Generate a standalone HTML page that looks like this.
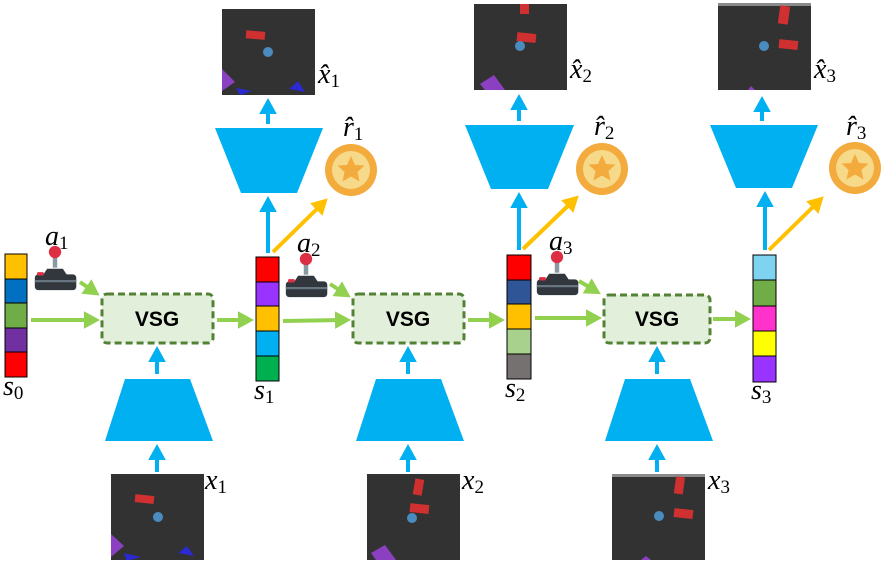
<!DOCTYPE html>
<html><head><meta charset="utf-8"><style>
html,body{margin:0;padding:0;background:#fff;}
svg{display:block;}
.m{font-family:"Liberation Serif",serif;font-style:italic;font-size:28px;fill:#000;}
.sub{font-size:19px;font-style:normal;}
.v{font-family:"Liberation Sans",sans-serif;font-weight:bold;font-size:21px;}
</style></head><body>
<svg width="887" height="566" viewBox="0 0 887 566" xmlns="http://www.w3.org/2000/svg">
<defs>
<marker id="bg" markerWidth="4" markerHeight="4.4" refX="2" refY="2.2" orient="auto" markerUnits="strokeWidth"><path d="M0,0 L4,2.2 L0,4.4 z" fill="#92d050"/></marker>
<marker id="bb" markerWidth="4" markerHeight="4.4" refX="2" refY="2.2" orient="auto" markerUnits="strokeWidth"><path d="M0,0 L4,2.2 L0,4.4 z" fill="#00b0f0"/></marker>
<marker id="bo" markerWidth="4" markerHeight="4.4" refX="2" refY="2.2" orient="auto" markerUnits="strokeWidth"><path d="M0,0 L4,2.2 L0,4.4 z" fill="#ffc000"/></marker>
<g id="joy">
<rect x="-2" y="-23" width="4" height="12" fill="#8a9aa3"/>
<circle cx="0" cy="-25" r="5.5" fill="#dd2e44"/>
<path d="M-7,-10 L7,-10 L11,-4 L-11,-4z" fill="#31373d"/>
<rect x="-18" y="-5" width="37" height="14" rx="3" fill="#31373d"/>
<rect x="-18" y="0" width="37" height="2" fill="#66757f"/>
<rect x="-16" y="-7" width="6" height="3" rx="1" fill="#dd2e44"/>
</g>
<g id="coin">
<circle r="26" fill="#f4ab3d"/>
<circle r="19" fill="#f7d98a"/>
<path d="M0,-14 L4,-5 L13.5,-4.5 L6.5,2 L8.5,11.5 L0,6.5 L-8.5,11.5 L-6.5,2 L-13.5,-4.5 L-4,-5z" fill="#f4ab3d"/>
</g>
</defs>

<g stroke="#000" stroke-width="1">
<rect x="5" y="254" width="22" height="25" fill="#ffc000"/>
<rect x="5" y="279" width="22" height="24" fill="#0070c0"/>
<rect x="5" y="303" width="22" height="25" fill="#70ad47"/>
<rect x="5" y="328" width="22" height="24" fill="#7030a0"/>
<rect x="5" y="352" width="22" height="25" fill="#ff0000"/>

<rect x="256" y="257" width="23" height="25" fill="#ff0000"/>
<rect x="256" y="282" width="23" height="24" fill="#9933ff"/>
<rect x="256" y="306" width="23" height="25" fill="#ffc000"/>
<rect x="256" y="331" width="23" height="25" fill="#00b0f0"/>
<rect x="256" y="356" width="23" height="25" fill="#00b050"/>

<rect x="507" y="255" width="24" height="25" fill="#ff0000"/>
<rect x="507" y="280" width="24" height="24" fill="#2f5597"/>
<rect x="507" y="304" width="24" height="25" fill="#ffc000"/>
<rect x="507" y="329" width="24" height="25" fill="#a9d18e"/>
<rect x="507" y="354" width="24" height="25" fill="#767171"/>

<rect x="753" y="255" width="23" height="25" fill="#7dd3f0"/>
<rect x="753" y="280" width="23" height="26" fill="#70ad47"/>
<rect x="753" y="306" width="23" height="25" fill="#ff33cc"/>
<rect x="753" y="331" width="23" height="25" fill="#ffff00"/>
<rect x="753" y="356" width="23" height="26" fill="#9933ff"/>
</g>

<g fill="#e2efda" stroke="#548235" stroke-width="3" stroke-dasharray="7,4">
<rect x="102" y="294" width="111" height="49" rx="5"/>
<rect x="353" y="294" width="111" height="49" rx="5"/>
<rect x="604" y="295" width="106" height="48" rx="5"/>
</g>
<text class="v" x="157" y="326" text-anchor="middle">VSG</text>
<text class="v" x="408" y="326" text-anchor="middle">VSG</text>
<text class="v" x="657" y="326" text-anchor="middle">VSG</text>

<g stroke="#92d050" stroke-width="4" marker-end="url(#bg)" fill="none">
<line x1="31" y1="320" x2="92" y2="320"/>
<line x1="217" y1="320" x2="246" y2="320"/>
<line x1="283" y1="321" x2="343" y2="320"/>
<line x1="468" y1="320" x2="497" y2="320"/>
<line x1="535" y1="318" x2="594" y2="318"/>
<line x1="713" y1="319" x2="743" y2="319"/>
<line x1="80" y1="282" x2="93" y2="291"/>
<line x1="330" y1="284" x2="344" y2="293"/>
<line x1="579" y1="281" x2="594" y2="290"/>
</g>

<use href="#joy" transform="translate(55 280) scale(1.12)"/>
<use href="#joy" transform="translate(306 287) scale(1.12)"/>
<use href="#joy" transform="translate(557 285) scale(1.12)"/>

<g fill="#00b0f0">
<path d="M125,379 L190,379 L213,441 L105,441z"/>
<path d="M376,379 L441,379 L464,441 L356,441z"/>
<path d="M625,379 L690,379 L713,441 L605,441z"/>
<path d="M215,128 L323,128 L297,193 L241,193z"/>
<path d="M465,125 L574,125 L548,189 L491,189z"/>
<path d="M710,125 L818,125 L792,188 L736,188z"/>
</g>

<g stroke="#00b0f0" stroke-width="4" marker-end="url(#bb)">
<line x1="157" y1="472" x2="157" y2="452"/>
<line x1="157" y1="374" x2="157" y2="354"/>
<line x1="408" y1="472" x2="408" y2="452"/>
<line x1="408" y1="374" x2="408" y2="354"/>
<line x1="657" y1="472" x2="657" y2="452"/>
<line x1="657" y1="374" x2="657" y2="354"/>
<line x1="268" y1="253" x2="268" y2="204"/>
<line x1="268" y1="124" x2="268" y2="106"/>
<line x1="519" y1="250" x2="519" y2="200"/>
<line x1="519" y1="121" x2="519" y2="102"/>
<line x1="765" y1="250" x2="765" y2="199"/>
<line x1="762" y1="121" x2="762" y2="104"/>
</g>

<g stroke="#ffc000" stroke-width="4" marker-end="url(#bo)">
<line x1="273" y1="252" x2="322" y2="204"/>
<line x1="523" y1="249" x2="573" y2="201"/>
<line x1="769" y1="250" x2="818" y2="202"/>
</g>

<use href="#coin" x="351" y="170"/>
<use href="#coin" x="602" y="169"/>
<use href="#coin" x="855" y="168"/>

<g>
<rect x="222" y="9" width="93" height="86" fill="#323232"/>
<rect x="246" y="31" width="19" height="8" fill="#d03030" transform="rotate(5 255 35)"/>
<circle cx="268" cy="52" r="5" fill="#4a8cc0"/>
<path d="M222,69 L235,82 L222,91z" fill="#8a40c0"/>
<path d="M236,88 L252,91 L240,95z" fill="#2a2ad0"/>
<path d="M289,89 L298,81 L305,92z" fill="#2a2ad0"/>

<rect x="474" y="4" width="93" height="86" fill="#323232"/>
<rect x="520" y="4" width="9" height="10" fill="#d03030"/>
<rect x="517" y="33" width="19" height="9" fill="#d03030" transform="rotate(6 526 37)"/>
<circle cx="520" cy="46" r="5" fill="#4a8cc0"/>
<path d="M480,84 L494,75 L505,90 L485,90z" fill="#8a40c0"/>

<rect x="718" y="3" width="93" height="87" fill="#323232"/>
<rect x="718" y="3" width="93" height="3" fill="#8a8a8a"/>
<rect x="779" y="6" width="10" height="18" fill="#d03030" transform="rotate(8 784 15)"/>
<rect x="779" y="40" width="19" height="9" fill="#d03030" transform="rotate(6 788 44)"/>
<circle cx="764" cy="46" r="5" fill="#4a8cc0"/>
<path d="M748,90 L751,86 L755,90z" fill="#8a40c0"/>

<rect x="111" y="474" width="93" height="86" fill="#323232"/>
<rect x="135" y="495" width="19" height="8" fill="#d03030" transform="rotate(6 144 499)"/>
<circle cx="158" cy="517" r="5" fill="#4a8cc0"/>
<path d="M111,534 L124,546 L111,557z" fill="#8a40c0"/>
<path d="M124,553 L141,557 L130,560 L126,560z" fill="#2a2ad0"/>
<path d="M178,553 L187,546 L194,556z" fill="#2a2ad0"/>

<rect x="367" y="474" width="93" height="86" fill="#323232"/>
<rect x="414" y="479" width="9" height="16" fill="#d03030" transform="rotate(10 418 487)"/>
<rect x="410" y="504" width="19" height="9" fill="#d03030" transform="rotate(6 419 508)"/>
<circle cx="412" cy="518" r="5" fill="#4a8cc0"/>
<path d="M371,553 L385,545 L396,560 L376,560z" fill="#8a40c0"/>

<rect x="612" y="474" width="93" height="86" fill="#323232"/>
<rect x="612" y="474" width="93" height="3" fill="#8a8a8a"/>
<rect x="675" y="477" width="9" height="17" fill="#d03030" transform="rotate(8 680 485)"/>
<rect x="674" y="509" width="19" height="9" fill="#d03030" transform="rotate(6 683 513)"/>
<circle cx="659" cy="516" r="5" fill="#4a8cc0"/>
<path d="M641,560 L646,556 L651,560z" fill="#8a40c0"/>
</g>

<text class="m" x="3" y="395">s<tspan class="sub" dy="4">0</tspan></text>
<text class="m" x="254" y="399">s<tspan class="sub" dy="4">1</tspan></text>
<text class="m" x="505" y="397">s<tspan class="sub" dy="4">2</tspan></text>
<text class="m" x="751" y="399">s<tspan class="sub" dy="4">3</tspan></text>
<text class="m" x="45" y="245">a<tspan class="sub" dy="4">1</tspan></text>
<text class="m" x="297" y="252">a<tspan class="sub" dy="4">2</tspan></text>
<text class="m" x="549" y="250">a<tspan class="sub" dy="4">3</tspan></text>
<text class="m" x="205" y="489">x<tspan class="sub" dy="4">1</tspan></text>
<text class="m" x="462" y="489">x<tspan class="sub" dy="4">2</tspan></text>
<text class="m" x="708" y="489">x<tspan class="sub" dy="4">3</tspan></text>
<text class="m" x="318" y="83">x̂<tspan class="sub" dy="4">1</tspan></text>
<text class="m" x="570" y="78">x̂<tspan class="sub" dy="4">2</tspan></text>
<text class="m" x="814" y="78">x̂<tspan class="sub" dy="4">3</tspan></text>
<text class="m" x="343" y="136">r̂<tspan class="sub" dy="4">1</tspan></text>
<text class="m" x="594" y="135">r̂<tspan class="sub" dy="4">2</tspan></text>
<text class="m" x="846" y="135">r̂<tspan class="sub" dy="4">3</tspan></text>
</svg>
</body></html>
